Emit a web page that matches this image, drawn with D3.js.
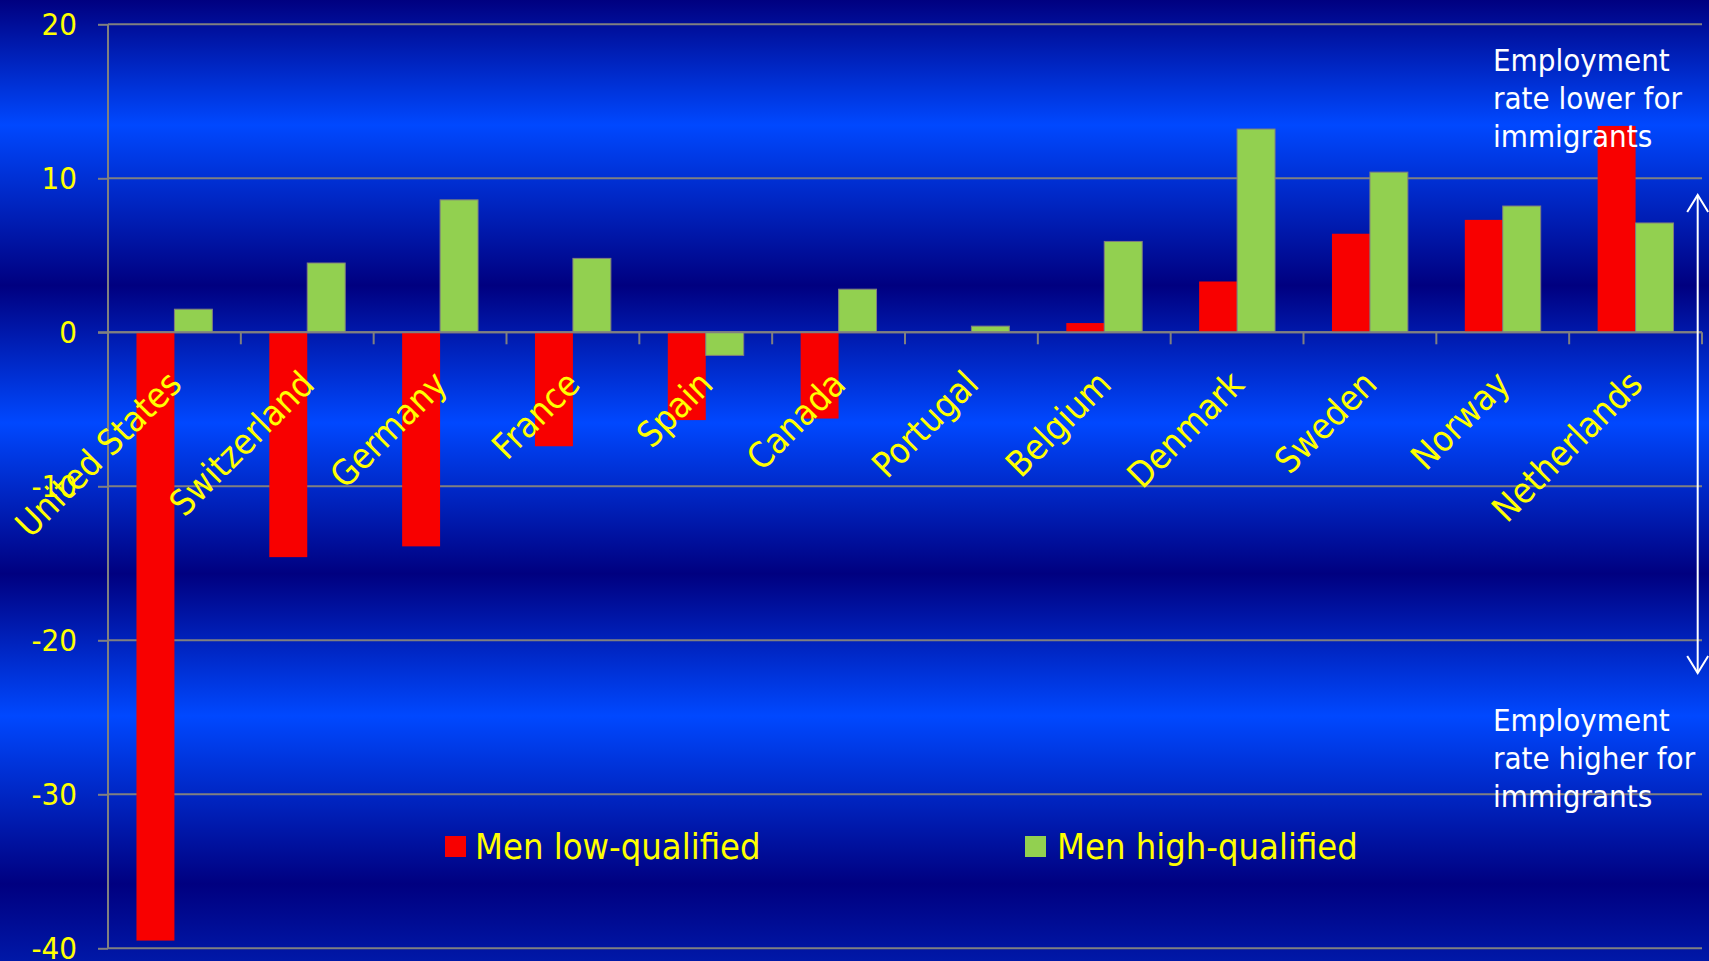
<!DOCTYPE html>
<html>
<head>
<meta charset="utf-8">
<script src="https://cdn.jsdelivr.net/npm/d3@7"></script>
<style>
  html, body { margin: 0; padding: 0; background: #000080; overflow: hidden; }
  svg { display: block; }
  text { font-family: "DejaVu Sans Condensed", "DejaVu Sans", Verdana, sans-serif; font-stretch: condensed; }
</style>
</head>
<body>
<svg id="chart" width="1709" height="961"></svg>
<script>
// ---- data ----
const categories = ["United States", "Switzerland", "Germany", "France", "Spain", "Canada",
                    "Portugal", "Belgium", "Denmark", "Sweden", "Norway", "Netherlands"];
const seriesNames = ["Men low-qualified", "Men high-qualified"];
const lowQualified  = [-39.5, -14.6, -13.9, -7.4, -5.7, -5.6, 0, 0.6, 3.3, 6.4, 7.3, 13.4];
const highQualified = [1.5, 4.5, 8.6, 4.8, -1.5, 2.8, 0.4, 5.9, 13.2, 10.4, 8.2, 7.1];
const yTicks = [20, 10, 0, -10, -20, -30, -40];
const yTickLabels = ["20", "10", "0", "-10", "-20", "-30", "-40"];
const noteTop = ["Employment", "rate lower for", "immigrants"];
const noteBottom = ["Employment", "rate higher for", "immigrants"];

(function () {
const W = 1709, H = 961;
const svg = d3.select("#chart");
const colors = { "Men low-qualified": "#f80000", "Men high-qualified": "#92d050" };

// ---- background gradient ----
const defs = svg.append("defs");
const grad = defs.append("linearGradient").attr("id", "bg")
  .attr("x1", 0).attr("y1", 0).attr("x2", 0).attr("y2", 1);
const dark = "#000080", bright = "#0048ff";
[[0, dark], [0.13, bright], [0.297, dark], [0.44, bright], [0.597, dark],
 [0.745, bright], [0.92, dark], [1, "#0018a8"]].forEach(([o, c]) =>
  grad.append("stop").attr("offset", o).attr("stop-color", c));
svg.append("rect").attr("width", W).attr("height", H).attr("fill", "url(#bg)");

// ---- scales ----
const pLeft = 108, pRight = 1702, pTop = 24.3, pBottom = 948.3;
const x = d3.scaleBand().domain(categories).range([pLeft, pRight]).paddingInner(0).paddingOuter(0);
const xs = d3.scaleBand().domain(seriesNames).range([0, x.bandwidth()]).paddingInner(0).paddingOuter(0.75);
const y = d3.scaleLinear().domain([-40, 20]).range([pBottom, pTop]);

const gridColor = "#808080";

// gridlines
svg.append("g").selectAll("line").data(yTicks).join("line")
  .attr("x1", pLeft).attr("x2", pRight)
  .attr("y1", d => y(d)).attr("y2", d => y(d))
  .attr("stroke", gridColor).attr("stroke-width", 2);

// bars
const rows = categories.map((c, i) => ({ cat: c, values: [
  { key: seriesNames[0], v: lowQualified[i] },
  { key: seriesNames[1], v: highQualified[i] }] }));
const groups = svg.append("g").selectAll("g").data(rows).join("g")
  .attr("transform", d => `translate(${x(d.cat)},0)`);
groups.selectAll("rect").data(d => d.values).join("rect")
  .attr("x", d => xs(d.key))
  .attr("width", xs.bandwidth())
  .attr("y", d => Math.min(y(d.v), y(0)))
  .attr("height", d => Math.abs(y(d.v) - y(0)))
  .attr("fill", d => colors[d.key])
  .attr("stroke", d => d.key === seriesNames[1] ? "#7f7f7f" : "none")
  .attr("stroke-width", 1);

// y axis
const yAxis = svg.append("g").attr("transform", `translate(${pLeft},0)`)
  .call(d3.axisLeft(y).tickValues(yTicks).tickSize(10).tickPadding(21)
        .tickFormat(d => yTickLabels[yTicks.indexOf(d)]));
yAxis.attr("font-size", null).attr("font-family", null);
yAxis.select(".domain").attr("stroke", gridColor).attr("stroke-width", 2)
  .attr("d", `M0,${pTop}V${pBottom}`);
yAxis.selectAll(".tick line").attr("stroke", gridColor).attr("stroke-width", 2);
yAxis.selectAll(".tick text").attr("fill", "#ffff00").style("font-size", "31px");

// x axis (zero line) with boundary ticks
const xAxis = svg.append("g").attr("transform", `translate(0,${y(0)})`);
xAxis.append("line").attr("x1", pLeft - 10).attr("x2", pRight)
  .attr("stroke", gridColor).attr("stroke-width", 2);
const bounds = categories.map(c => x(c)).concat([pRight]);
xAxis.selectAll("line.tk").data(bounds).join("line").attr("class", "tk")
  .attr("x1", d => d).attr("x2", d => d).attr("y1", 0).attr("y2", 12)
  .attr("stroke", gridColor).attr("stroke-width", 2);

// category labels
svg.append("g").selectAll("text").data(categories).join("text")
  .attr("text-anchor", "end")
  .attr("fill", "#ffff00")
  .style("font-size", "35.5px")
  .attr("transform", d => `translate(${x(d) + x.bandwidth() / 2 + 9},${y(0) + 54}) rotate(-45)`)
  .text(d => d);

// legend
const legendItems = [
  { key: seriesNames[0], sx: 445, tx: 475 },
  { key: seriesNames[1], sx: 1025, tx: 1057 }];
const lg = svg.append("g");
lg.selectAll("rect").data(legendItems).join("rect")
  .attr("x", d => d.sx).attr("y", 836).attr("width", 21).attr("height", 21)
  .attr("fill", d => colors[d.key]);
lg.selectAll("text").data(legendItems).join("text")
  .attr("x", d => d.tx).attr("y", 859).attr("fill", "#ffff00").style("font-size", "36px")
  .text(d => d.key);

// annotations
function note(lines, baseY) {
  return svg.append("g").selectAll("text").data(lines).join("text")
    .attr("x", 1493).attr("y", (d, i) => baseY + i * 38)
    .attr("fill", "#ffffff").style("font-size", "31px").text(d => d);
}
note(noteTop, 71);
note(noteBottom, 731);

// double arrow
const ax = 1697.7, ay1 = 195, ay2 = 673;
const arrow = svg.append("g").attr("stroke", "#ffffff").attr("stroke-width", 2).attr("fill", "none");
arrow.append("line").attr("x1", ax).attr("x2", ax).attr("y1", ay1).attr("y2", ay2);
arrow.append("path").attr("d", `M${ax - 10.5},${ay1 + 17}L${ax},${ay1}L${ax + 10.5},${ay1 + 17}`);
arrow.append("path").attr("d", `M${ax - 10.5},${ay2 - 17}L${ax},${ay2}L${ax + 10.5},${ay2 - 17}`);
})();
</script>
</body>
</html>
